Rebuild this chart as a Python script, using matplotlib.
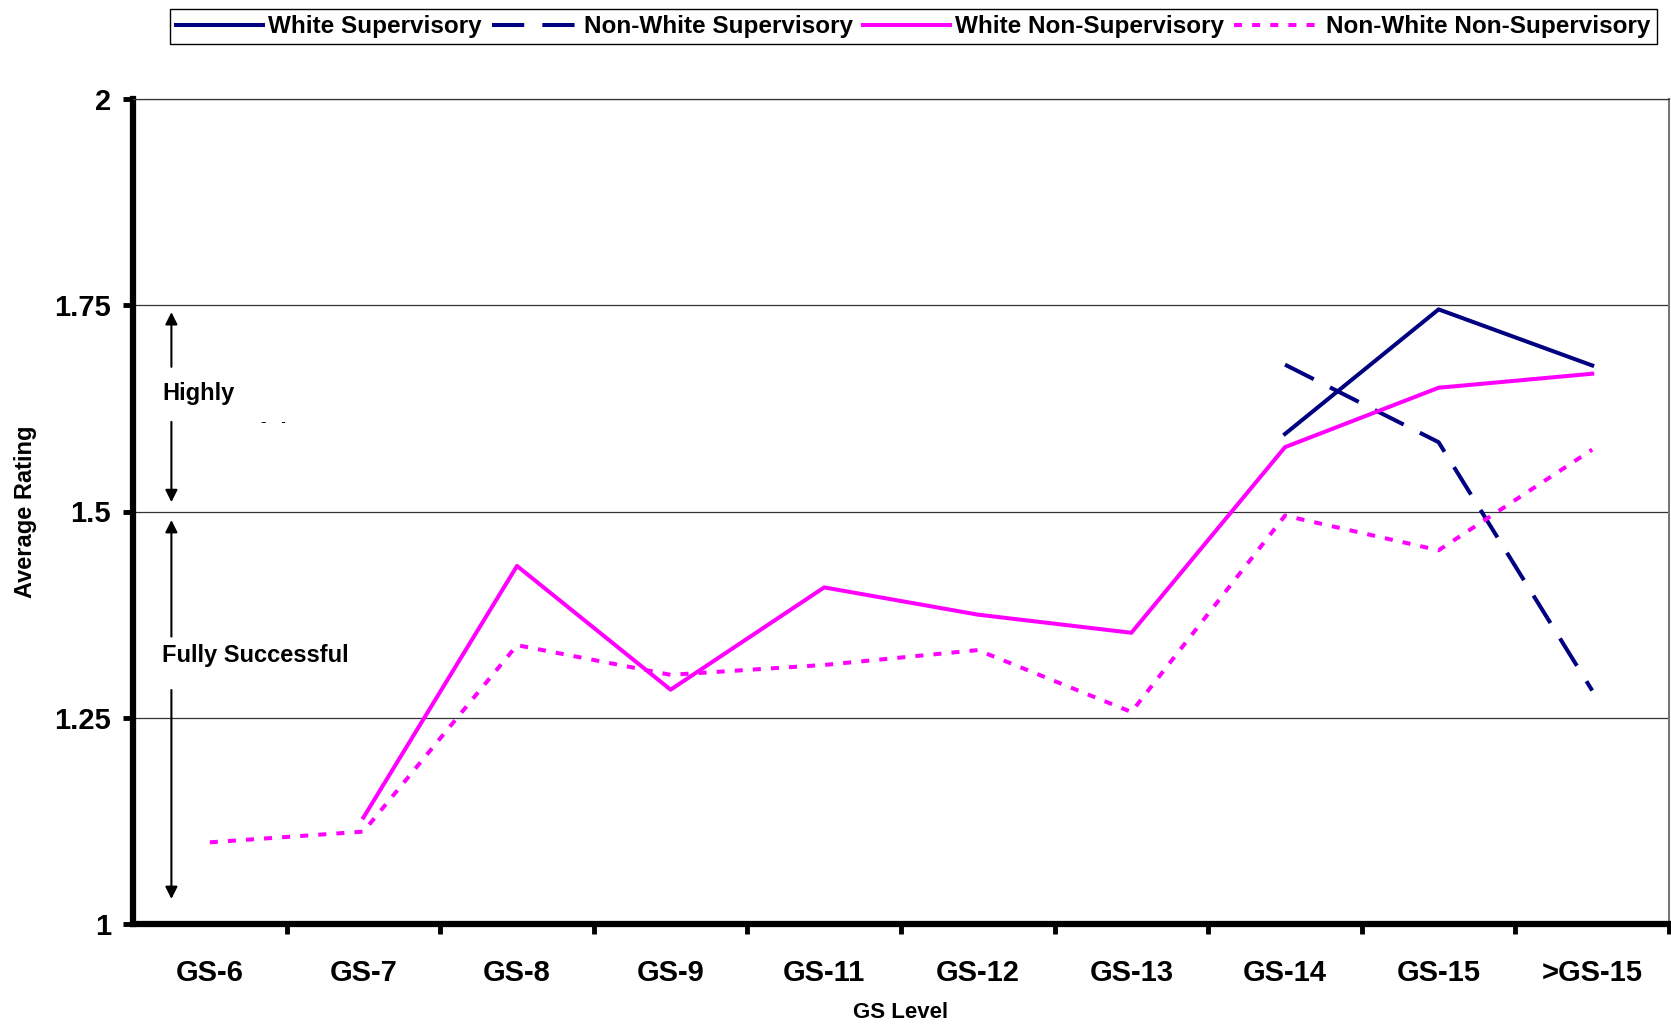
import matplotlib
matplotlib.use("Agg")
import matplotlib.pyplot as plt
from matplotlib.patches import Rectangle
import numpy as np

plt.rcParams['font.family'] = ['Liberation Sans', 'DejaVu Sans']
plt.rcParams['font.weight'] = 'bold'

levels = ["GS-6", "GS-7", "GS-8", "GS-9", "GS-11", "GS-12", "GS-13", "GS-14", "GS-15", ">GS-15"]
nan = np.nan
white_sup = [nan, nan, nan, nan, nan, nan, nan, 1.594, 1.745, 1.677]
nonwhite_sup = [nan, nan, nan, nan, nan, nan, nan, 1.678, 1.584, 1.283]
white_nonsup = [nan, 1.129, 1.434, 1.284, 1.408, 1.375, 1.353, 1.578, 1.650, 1.667]
nonwhite_nonsup = [1.099, 1.112, 1.338, 1.302, 1.314, 1.332, 1.257, 1.495, 1.453, 1.575]

navy = "#000080"
magenta = "#FF00FF"

fig = plt.figure(figsize=(16.71, 10.29), dpi=100)
ax = fig.add_axes([133 / 1671, 1 - 924 / 1029, (1669 - 133) / 1671, (924 - 99) / 1029])

x = np.arange(len(levels))
ax.plot(x, white_sup, color=navy, lw=2.9, label="White Supervisory")
ax.plot(x, nonwhite_sup, color=navy, lw=2.9, dashes=(8, 4.5), label="Non-White Supervisory")
ax.plot(x, white_nonsup, color=magenta, lw=2.9, label="White Non-Supervisory")
ax.plot(x, nonwhite_nonsup, color=magenta, lw=2.9, dashes=(2, 2.5), label="Non-White Non-Supervisory")

ax.set_xlim(-0.5, 9.5)
ax.set_ylim(1, 2)
ax.set_yticks([1, 1.25, 1.5, 1.75, 2])
ax.set_yticklabels(["1", "1.25", "1.5", "1.75", "2"])
ax.set_xticks(x)
ax.set_xticklabels(levels)
ax.set_xticks(np.arange(0.5, 10, 1), minor=True)
ax.tick_params(axis='x', which='major', length=0, pad=25, labelsize=21)
ax.tick_params(axis='x', which='minor', length=7, width=3.5, direction='out')
ax.tick_params(axis='y', length=7, width=3.5, pad=9, labelsize=21)
for y in [1.25, 1.5, 1.75, 2]:
    ax.axhline(y, color="#333333", lw=0.9, zorder=0)

ax.spines['left'].set_linewidth(4.5)
ax.spines['bottom'].set_linewidth(4.5)
ax.spines['top'].set_linewidth(0.9)
ax.spines['right'].set_linewidth(1.5)
ax.spines['right'].set_color("#777777")
ax.spines['top'].set_color("#333333")

ax.set_xlabel("GS Level", fontsize=16, fontweight='bold', labelpad=11)
ax.set_ylabel("Average Rating", fontsize=17, fontweight='bold', labelpad=12)

# rating band annotations
ax_x = -0.25
arrow = dict(arrowstyle='-|>', color='black', lw=1.5, mutation_scale=18)
for tip, tail in [(1.745, 1.672), (1.508, 1.612), (1.493, 1.345), (1.027, 1.287)]:
    a = ax.annotate("", xy=(ax_x, tip), xytext=(ax_x, tail), arrowprops=arrow)
    a.set_zorder(6)
ax.text(-0.31, 1.643, "Highly", fontsize=17, fontweight='bold', va='center')
ax.text(-0.31, 1.325, "Fully Successful", fontsize=17, fontweight='bold', va='center')
# second line of the label is hidden behind the plot area, only its top shows
ax.text(-0.31, 1.595, "Successful", fontsize=17, fontweight='bold', va='center', zorder=4)
ax.add_patch(Rectangle((-0.45, 1.52), 1.2, 0.087, facecolor='white', edgecolor='none', zorder=5))

fig.legend(loc='center', bbox_to_anchor=(0.5465, 0.974), ncol=4,
           frameon=True, fancybox=False, edgecolor='black', framealpha=1,
           handlelength=3.6, columnspacing=0.4, handletextpad=0.2,
           borderpad=0.25, prop={'weight': 'bold', 'size': 17.5})

fig.savefig("out.png", dpi=100)
